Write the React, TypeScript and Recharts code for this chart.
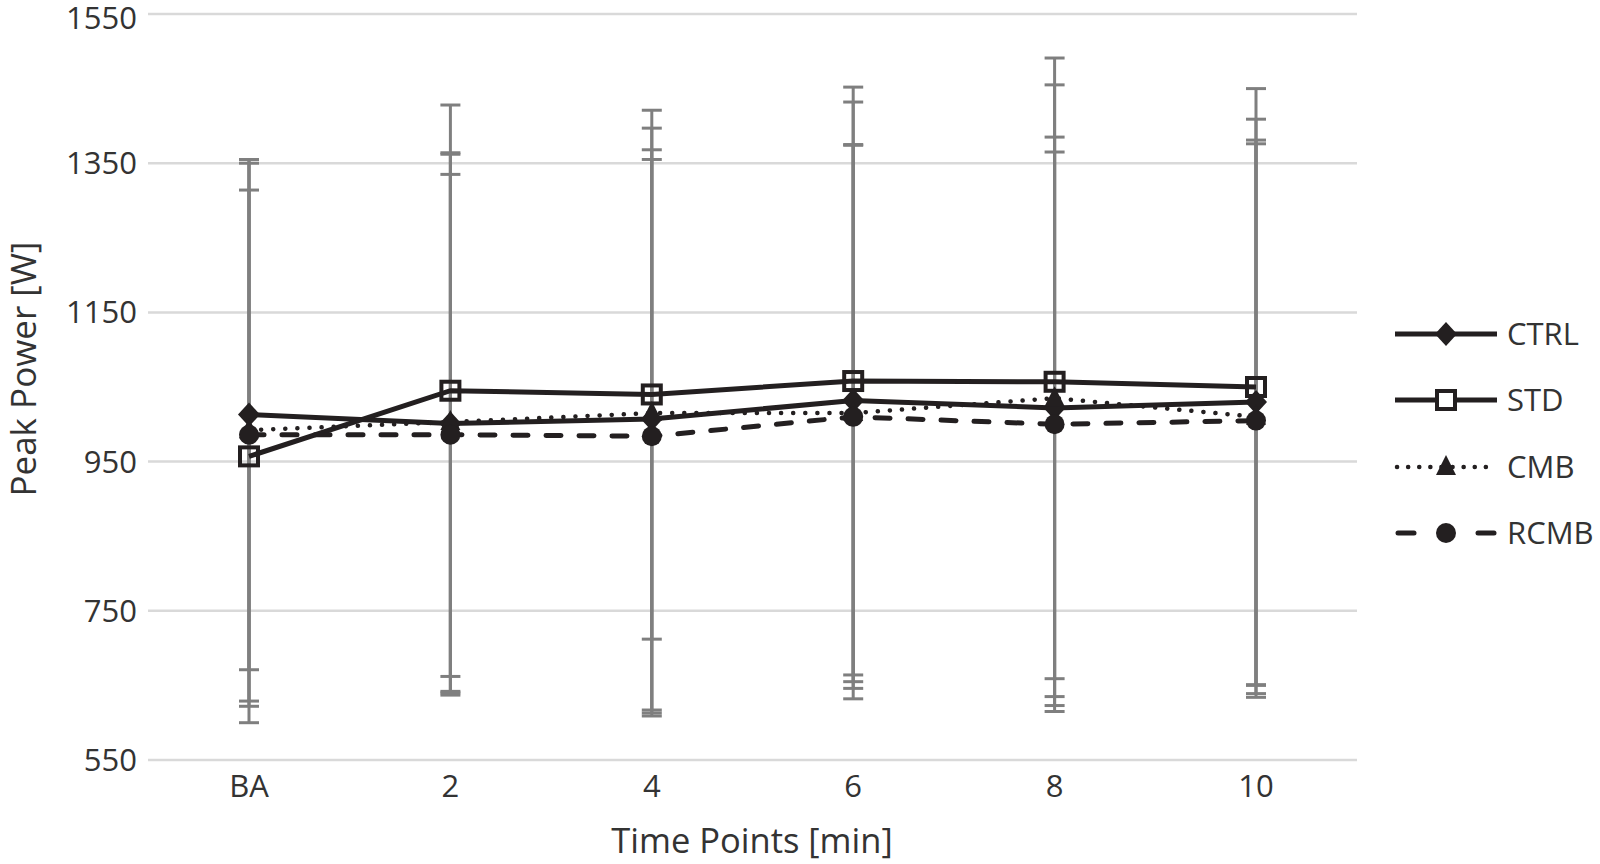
import React from 'react';
import { LineChart, Line, XAxis, YAxis, CartesianGrid, ErrorBar, Legend } from 'recharts';

// time points and group means / SDs (W)
const timePoints = ['BA', '2', '4', '6', '8', '10'];
const ctrlMean = [1013, 1001, 1007, 1032, 1022, 1030];
const stdMean = [957, 1045, 1040, 1058, 1057, 1050];
const cmbMean = [992, 1003, 1015, 1015, 1035, 1010];
const rcmbMean = [986, 986, 984, 1010, 1000, 1005];
const ctrlSd = [342, 361, 390, 400, 363, 379];
const stdSd = [357, 383, 328, 394, 434, 400];
const cmbSd = [363, 361, 406, 360, 420, 371];
const rcmbSd = [364, 349, 371, 364, 365, 371];
const yTicks = [550, 750, 950, 1150, 1350, 1550];

const INK = '#231f20';
const ERR = '#7f7f7f';
const FONT = '"Open Sans", sans-serif';
const TEXT = '#333333';

type MarkerKind = 'diamond' | 'square' | 'triangle' | 'circle';

const series: { key: string; name: string; marker: MarkerKind; dash?: string }[] = [
  { key: 'ctrl', name: 'CTRL', marker: 'diamond' },
  { key: 'std', name: 'STD', marker: 'square' },
  { key: 'cmb', name: 'CMB', marker: 'triangle', dash: '0.1 12' },
  { key: 'rcmb', name: 'RCMB', marker: 'circle', dash: '15 18' },
];

const chartData = timePoints.map((t, i) => ({
  t,
  ctrl: ctrlMean[i],
  std: stdMean[i],
  cmb: cmbMean[i],
  rcmb: rcmbMean[i],
  ctrlErr: ctrlSd[i],
  stdErr: stdSd[i],
  cmbErr: cmbSd[i],
  rcmbErr: rcmbSd[i],
}));

function Marker({ kind, cx, cy, fill = 'none' }: { kind: MarkerKind; cx: number; cy: number; fill?: string }) {
  if (kind === 'diamond') {
    return <path d={`M${cx},${cy - 12}L${cx + 11},${cy}L${cx},${cy + 12}L${cx - 11},${cy}Z`} fill={INK} />;
  }
  if (kind === 'square') {
    return <rect x={cx - 9} y={cy - 9} width={18} height={18} fill={fill} stroke={INK} strokeWidth={4} />;
  }
  if (kind === 'triangle') {
    return <path d={`M${cx},${cy - 12}L${cx + 10},${cy + 8}L${cx - 10},${cy + 8}Z`} fill={INK} />;
  }
  return <circle cx={cx} cy={cy} r={10} fill={INK} />;
}

function renderLegend() {
  const rowY = [34, 100, 167, 233];
  return (
    <svg width={210} height={260}>
      {series.map((s, i) => {
        const y = rowY[i];
        return (
          <g key={s.key}>
            {s.marker === 'circle' ? (
              <g stroke={INK} strokeWidth={5} strokeLinecap="round">
                <line x1={8} y1={y} x2={24} y2={y} />
                <line x1={88} y1={y} x2={104} y2={y} />
              </g>
            ) : s.marker === 'triangle' ? (
              <line x1={7} y1={y} x2={105} y2={y} stroke={INK} strokeWidth={4.5}
                strokeDasharray="0.1 11" strokeLinecap="round" />
            ) : (
              <line x1={5} y1={y} x2={107} y2={y} stroke={INK} strokeWidth={5} />
            )}
            <Marker kind={s.marker} cx={56} cy={y} fill="#ffffff" />
            <text x={117} y={y + 11} fontFamily={FONT} fontSize={31} fill={TEXT}>{s.name}</text>
          </g>
        );
      })}
    </svg>
  );
}

export default function App() {
  return (
    <div style={{ position: 'absolute', left: 0, top: 0, width: 1600, height: 864, background: '#ffffff' }}>
      <LineChart width={1600} height={864} data={chartData} margin={{ top: 14, right: 243, left: 0, bottom: 0 }}>
        <CartesianGrid vertical={false} stroke="#d9d9d9" strokeWidth={2.5} />
        <XAxis
          dataKey="t"
          axisLine={false}
          tickLine={false}
          height={104}
          padding={{ left: 101, right: 101 }}
          tickMargin={9}
          tick={{ fontFamily: FONT, fontSize: 31, fill: TEXT }}
          label={{
            content: () => (
              <text x={752} y={853} textAnchor="middle" fontFamily={FONT} fontSize={34.5} fill={TEXT}>
                Time Points [min]
              </text>
            ),
          }}
        />
        <YAxis
          width={148}
          domain={[550, 1550]}
          ticks={yTicks}
          allowDataOverflow
          axisLine={false}
          tickLine={false}
          tickMargin={5}
          tick={{ fontFamily: FONT, fontSize: 31, fill: TEXT }}
          label={{
            content: () => (
              <text x={36} y={369} transform="rotate(-90 36 369)" textAnchor="middle" fontFamily={FONT} fontSize={35} fill={TEXT}>
                Peak Power [W]
              </text>
            ),
          }}
        />
        <Legend layout="vertical" align="center" verticalAlign="middle" content={renderLegend}
          wrapperStyle={{ left: 1390, top: 300, width: 210, height: 260 }} />
        {/* error bars first so the lines sit on top */}
        {series.map((s) => (
          <Line key={`${s.key}-err`} dataKey={s.key} stroke="none" dot={false} activeDot={false}
            legendType="none" isAnimationActive={false}>
            <ErrorBar dataKey={`${s.key}Err`} stroke={ERR} strokeWidth={3} width={10} isAnimationActive={false} />
          </Line>
        ))}
        {series.map((s) => (
          <Line
            key={s.key}
            dataKey={s.key}
            name={s.name}
            type="linear"
            stroke={INK}
            strokeWidth={s.dash === '0.1 12' ? 4.5 : 5}
            strokeDasharray={s.dash}
            strokeLinecap={s.dash ? 'round' : 'butt'}
            activeDot={false}
            isAnimationActive={false}
            dot={(p: any) => <Marker key={`${s.key}-${p.index}`} kind={s.marker} cx={p.cx} cy={p.cy} />}
          />
        ))}
      </LineChart>
    </div>
  );
}
